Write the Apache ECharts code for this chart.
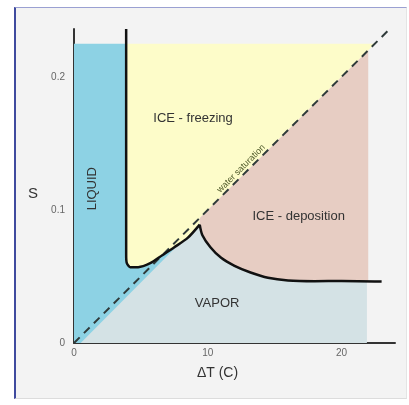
<!DOCTYPE html>
<html>
<head>
<meta charset="utf-8">
<script src="https://cdn.jsdelivr.net/npm/echarts@6/dist/echarts.min.js"></script>
<style>
  html, body { margin: 0; padding: 0; background: #fff; }
  .frame {
    position: absolute; left: 14px; top: 7px; width: 390px; height: 390px;
    background: #f3f3f3; border-left: 2px solid #3f4a9e; border-top: 1px solid #9aa0d2;
    border-right: 1px solid #e4e4e4; border-bottom: 1px solid #dcdcdc;
  }
  #chart { position: absolute; left: 0; top: 0; width: 409px; height: 405px; }
</style>
</head>
<body>
<div class="frame"></div>
<div id="chart"></div>
<script>
  // axis ticks
  const xTicks = [0, 10, 20];
  const yTicks = [0, 0.1, 0.2];

  // ice nucleation boundary, left branch (down the wall, up to the cusp)
  const leftBranch = [
    [3.9, 0.236], [3.9, 0.066], [3.95, 0.060], [4.2, 0.057], [4.8, 0.057],
    [5.7, 0.060], [6.6, 0.066], [7.5, 0.072], [8.5, 0.079], [9.4, 0.089]
  ];
  // right branch (from the cusp down to the plateau)
  const rightBranch = [
    [9.4, 0.089], [9.6, 0.081], [10.2, 0.072], [11, 0.064], [12, 0.058],
    [13.2, 0.053], [14.5, 0.049], [16, 0.047], [18, 0.0465], [20, 0.0466], [23, 0.0462]
  ];
  // water saturation line
  const saturation = [[0, 0], [23.6, 0.236]];

  // shaded regions
  const vaporRegion = [[0, 0], [21.9, 0], [21.9, 0.0466]].concat(rightBranch.slice(0, -1).reverse(), [[0, 0]]);
  const liquidRegion = [[0, 0], [0, 0.225], [3.9, 0.225]].concat(leftBranch.slice(1), [[8.6, 0.082], [0.5, 0]]);
  const freezingRegion = [[3.9, 0.225], [22.5, 0.225], [9.4, 0.094]].concat(leftBranch.slice(1).reverse());
  const depositionRegion = [[9.4, 0.094], [22, 0.22], [22, 0.0466]].concat(rightBranch.slice(0, -2).reverse());

  // text in the plot: [text, x, S, rotation, size, colour]
  const annotations = [
    ['ICE - freezing', 8.9, 0.169, 0, 13, '#333'],
    ['ICE - deposition', 16.8, 0.095, 0, 13, '#333'],
    ['VAPOR', 10.7, 0.030, 0, 13, '#333'],
    ['LIQUID', 1.35, 0.116, Math.PI / 2, 13, '#333'],
    ['water saturation', 12.5, 0.131, Math.PI / 4, 9, '#4f5a2a']
  ];

  const chart = echarts.init(document.getElementById('chart'));

  function region(name, pts, color) {
    return {
      type: 'custom',
      name: name,
      data: pts,
      silent: true,
      z: 1,
      renderItem: function (params, api) {
        if (params.dataIndex !== 0) return;
        return {
          type: 'polygon',
          shape: { points: pts.map(function (p) { return api.coord(p); }) },
          style: { fill: color }
        };
      }
    };
  }

  chart.setOption({
    animation: false,
    grid: { left: 74, right: 14, top: 29, bottom: 62 },
    graphic: [
      {
        type: 'text',
        left: 28,
        top: 186,
        style: { text: 'S', fill: '#333', fontSize: 15, fontFamily: 'Liberation Sans' }
      }
    ],
    xAxis: {
      type: 'value',
      min: 0,
      max: 24,
      interval: 10,
      name: 'ΔT (C)',
      nameLocation: 'middle',
      nameGap: 23,
      nameTextStyle: { color: '#333', fontSize: 14, fontFamily: 'Liberation Sans', padding: [0, 34, 0, 0] },
      axisLine: { lineStyle: { color: '#333', width: 2 } },
      axisTick: { inside: true, length: 6, customValues: [10, 20], lineStyle: { color: '#333', width: 1.5 } },
      axisLabel: { customValues: xTicks, color: '#666', fontSize: 10, margin: 5, fontFamily: 'Liberation Sans' },
      splitLine: { show: false }
    },
    yAxis: {
      type: 'value',
      min: 0,
      max: 0.236,
      interval: 0.1,
      axisLine: { lineStyle: { color: '#333', width: 2 } },
      axisTick: { inside: true, length: 5, customValues: [0.1, 0.2], lineStyle: { color: '#333', width: 1.5 } },
      axisLabel: {
        customValues: yTicks,
        color: '#666',
        fontSize: 10,
        margin: 9,
        fontFamily: 'Liberation Sans',
        formatter: function (v) { return v === 0 ? '0' : v.toFixed(1); }
      },
      splitLine: { show: false }
    },
    series: [
      region('vapor', vaporRegion, '#d4e2e5'),
      region('liquid', liquidRegion, '#8dd2e4'),
      region('freezing', freezingRegion, '#fdfcc9'),
      region('deposition', depositionRegion, '#e7cdc3'),
      {
        type: 'line',
        data: saturation,
        symbol: 'none',
        z: 3,
        lineStyle: { color: '#2f3a3a', width: 2, type: [8, 6] }
      },
      {
        type: 'line',
        data: leftBranch,
        symbol: 'none',
        smooth: 0.25,
        z: 4,
        lineStyle: { color: '#111', width: 2.5 }
      },
      {
        type: 'line',
        data: rightBranch,
        symbol: 'none',
        smooth: 0.3,
        z: 4,
        lineStyle: { color: '#111', width: 2.5 }
      },
      {
        type: 'custom',
        data: annotations.map(function (a) { return [a[1], a[2]]; }),
        silent: true,
        z: 5,
        renderItem: function (params, api) {
          const a = annotations[params.dataIndex];
          const p = api.coord([a[1], a[2]]);
          return {
            type: 'text',
            x: p[0],
            y: p[1],
            rotation: a[3],
            style: {
              text: a[0],
              fill: a[5],
              fontSize: a[4],
              fontFamily: 'Liberation Sans',
              align: 'center',
              verticalAlign: 'middle'
            }
          };
        }
      }
    ]
  });
</script>
</body>
</html>
